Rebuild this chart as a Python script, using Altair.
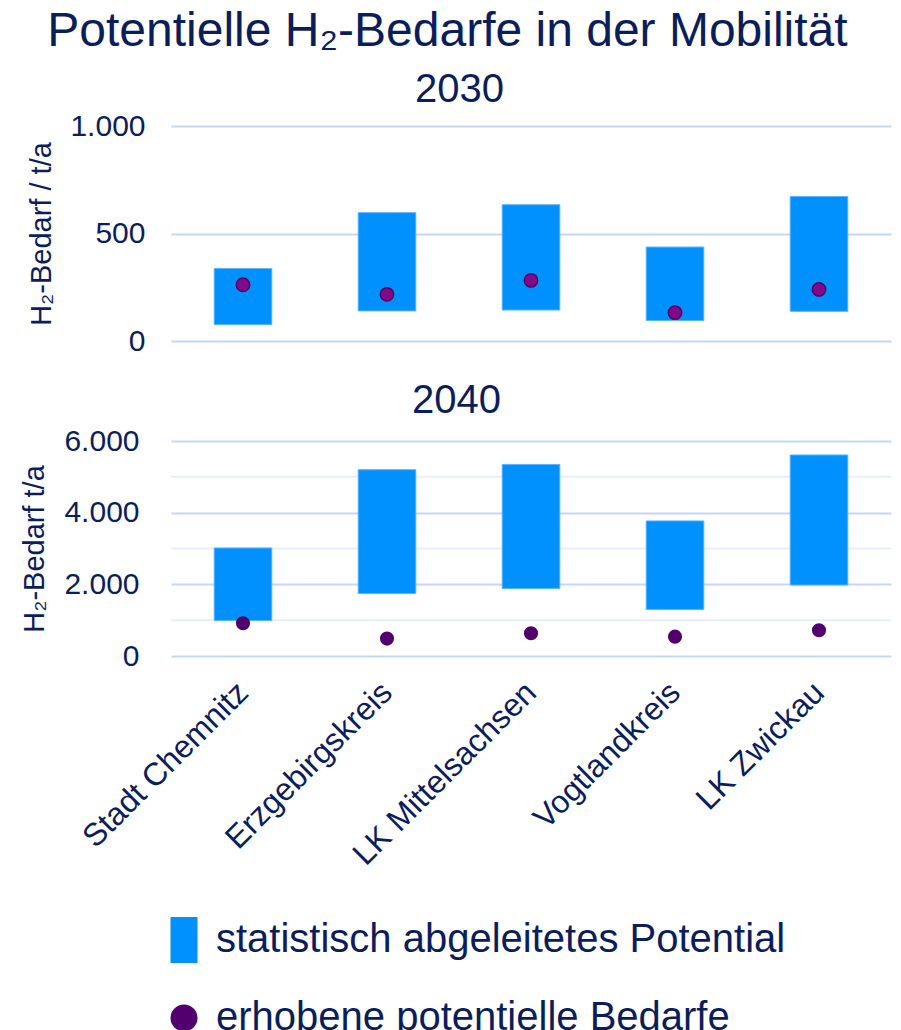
import altair as alt
import pandas as pd

# ---- data ----
categories = ["Stadt Chemnitz", "Erzgebirgskreis", "LK Mittelsachsen", "Vogtlandkreis", "LK Zwickau"]
series = ["statistisch abgeleitetes Potential", "erhobene potentielle Bedarfe"]

pot_2030_low = [76, 140, 144, 95, 138]
pot_2030_high = [337, 597, 634, 437, 672]
survey_2030 = [262, 217, 282, 132, 240]

pot_2040_low = [990, 1745, 1885, 1300, 1980]
pot_2040_high = [3015, 5200, 5345, 3770, 5610]
survey_2040 = [915, 485, 635, 540, 720]

ticks_2030 = [0, 500, 1000]
ticks_2040 = [0, 2000, 4000, 6000]
minor_2040 = [1000, 3000, 5000]

# ---- styling ----
FONT = "Liberation Sans"
NAVY = "#0B1D5B"
BLUE = "#0091FF"
PURPLE = "#52006E"
PURPLE_TOP = "#800A8A"
GRID = "#C6D6F8"
GRID_MINOR = "#E8EEFD"
RECT_PATH = "M-1,-1.7L1,-1.7L1,1.7L-1,1.7Z"

color_scale = alt.Scale(domain=series, range=[BLUE, PURPLE])
shape_scale = alt.Scale(domain=series, range=[RECT_PATH, "circle"])
x_scale = alt.Scale(paddingInner=0.6, paddingOuter=0.3)

legend = alt.Legend(
    title=None, orient="none", legendX=-7, legendY=794, direction="vertical",
    labelFontSize=40, labelFont=FONT, labelColor=NAVY, labelLimit=1000,
    symbolSize=729, symbolStrokeWidth=0, labelOffset=12, rowPadding=35,
    symbolOpacity=1,
)

label_expr = "replace(format(datum.value, ','), ',', '.')"


def panel(low, high, survey, ticks, minor, year, ytitle, show_x, pt_fill, pt_stroke, pt_size,
          label_pad, title_pad, title_off):
    df = pd.DataFrame({"cat": categories, "low": low, "high": high, "survey": survey})
    ydom = [ticks[0], ticks[-1]]
    x_axis = (
        alt.Axis(title=None, labelAngle=-45, labelAlign="right", labelBaseline="middle",
                 labelFontSize=32, labelFont=FONT, labelColor=NAVY, labelPadding=31,
                 labelLimit=600, domain=False, ticks=False, grid=False)
        if show_x else
        alt.Axis(title=None, labels=False, domain=False, ticks=False, grid=False)
    )
    y_axis = alt.Axis(
        title=ytitle, values=ticks, labelExpr=label_expr, labelFontSize=30, labelFont=FONT,
        labelColor=NAVY, labelPadding=label_pad, titleFontSize=29, titleFont=FONT,
        titleFontWeight="normal", titleColor=NAVY, titlePadding=title_pad,
        domain=False, ticks=False, grid=True, gridColor=GRID, gridWidth=2,
    )
    X = alt.X("cat:N", sort=categories, scale=x_scale, axis=x_axis)

    layers = []
    if minor:
        mdf = pd.DataFrame({"v": minor})
        layers.append(
            alt.Chart(mdf).mark_rule(color=GRID_MINOR, strokeWidth=2).encode(
                y=alt.Y("v:Q", scale=alt.Scale(domain=ydom))
            )
        )
    bars = alt.Chart(df).transform_calculate(series=f"'{series[0]}'").mark_bar(
        stroke="#5CB3FF", strokeWidth=1
    ).encode(
        x=X,
        y=alt.Y("low:Q", scale=alt.Scale(domain=ydom), axis=y_axis),
        y2="high:Q",
        color=alt.Color("series:N", scale=color_scale, legend=legend),
    )
    pt_enc = dict(
        x=X,
        y=alt.Y("survey:Q", scale=alt.Scale(domain=ydom)),
        color=alt.Color("series:N", scale=color_scale, legend=legend),
        shape=alt.Shape("series:N", scale=shape_scale, legend=legend),
    )
    base_pt = alt.Chart(df).transform_calculate(series=f"'{series[1]}'")
    if pt_stroke:
        pts = base_pt.mark_point(filled=True, size=pt_size, opacity=1,
                                 stroke=pt_stroke, strokeWidth=1.5)
    else:
        pts = base_pt.mark_point(filled=True, size=pt_size, opacity=1)
    if pt_fill:
        pt_enc["fill"] = alt.value(pt_fill)
    pts = pts.encode(**pt_enc)
    layers += [bars, pts]
    return alt.layer(*layers).properties(
        width=720, height=215,
        title=alt.TitleParams(year, fontSize=40, font=FONT, fontWeight="normal", color=NAVY,
                              anchor="middle", frame="bounds", offset=title_off),
    )


top = panel(pot_2030_low, pot_2030_high, survey_2030, ticks_2030, None, "2030",
            "H₂-Bedarf / t/a", False, PURPLE_TOP, "#5A0060", 180, 26, 13, 1)
bottom = panel(pot_2040_low, pot_2040_high, survey_2040, ticks_2040, minor_2040, "2040",
               "H₂-Bedarf t/a", True, None, None, 200, 32, 14, 5)

chart = alt.vconcat(top, bottom, spacing=25).properties(
    title=alt.TitleParams("Potentielle H₂-Bedarfe in der Mobilität", fontSize=48, font=FONT,
                          fontWeight="normal", color=NAVY, anchor="middle", offset=14, dx=-9),
    padding={"left": 12, "top": 0, "right": 0, "bottom": 0},
).resolve_scale(color="shared", shape="shared").configure_view(stroke=None)

chart.save("out.html", embed_options={"renderer": "svg", "actions": False})
